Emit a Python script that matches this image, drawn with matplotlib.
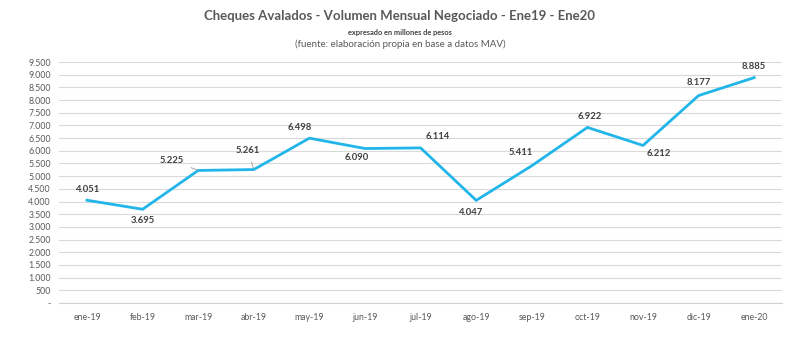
import matplotlib
matplotlib.use('Agg')
import matplotlib.pyplot as plt
from matplotlib.ticker import FuncFormatter

plt.rcParams['font.family'] = ['Lato', 'DejaVu Sans']

months = ['ene-19', 'feb-19', 'mar-19', 'abr-19', 'may-19', 'jun-19', 'jul-19',
          'ago-19', 'sep-19', 'oct-19', 'nov-19', 'dic-19', 'ene-20']
volumen = [4051, 3695, 5225, 5261, 6498, 6090, 6114, 4047, 5411, 6922, 6212, 8177, 8885]
# label offsets in pixels (dx, dy) and whether a leader line is drawn
offsets = [(1, 11), (0, -11), (-26, 10), (-6, 19), (-10, 11), (-8, -9), (17, 11),
           (-5, -12), (-11, 13), (2, 11), (16, -8), (0, 13), (0, 11)]
leaders = [False, False, True, True, False, False, False,
           False, False, False, False, False, False]

def miles(v):
    return f'{v:,.0f}'.replace(',', '.')

fig = plt.figure(figsize=(8, 3.43), dpi=100)
ax = fig.add_axes([0.074, 0.1166, 0.9035, 0.7026])

x = list(range(len(months)))
ax.plot(x, volumen, color='#22B5E9', lw=2.0, solid_joinstyle='miter', zorder=3)

for i, v in enumerate(volumen):
    dx, dy = offsets[i]
    props = None
    if leaders[i]:
        props = dict(arrowstyle='-', color='#A6A6A6', lw=0.7, shrinkA=3, shrinkB=1)
    ax.annotate(miles(v), (i, v), xytext=(dx * 0.72, dy * 0.72), textcoords='offset points',
                ha='center', va='center', fontsize=6.8, fontweight='bold', color='#404040',
                arrowprops=props, zorder=4)

ax.set_xlim(-0.5, len(months) - 0.5)
ax.set_ylim(0, 9500)
ax.set_yticks(range(0, 9501, 500))
ax.yaxis.set_major_formatter(FuncFormatter(lambda v, p: '-' if v == 0 else miles(v)))
ax.set_xticks(x)
ax.set_xticklabels(months)
ax.grid(axis='y', color='#D9D9D9', lw=0.8)
ax.set_axisbelow(True)
for s in ['top', 'right', 'left']:
    ax.spines[s].set_visible(False)
ax.spines['bottom'].set_color('#D0D0D0')
ax.tick_params(axis='both', length=0, labelsize=6.3, colors='#595959')
ax.tick_params(axis='y', pad=6)
ax.tick_params(axis='x', pad=7)

fig.text(0.5, 0.953, 'Cheques Avalados - Volumen Mensual Negociado - Ene19 - Ene20',
         ha='center', va='center', fontsize=9.5, fontweight='bold', color='#595959')
fig.text(0.5, 0.906, 'expresado en millones de pesos', ha='center', va='center',
         fontsize=5.3, fontweight='bold', color='#404040')
fig.text(0.5, 0.872, '(fuente: elaboración propia en base a datos MAV)', ha='center', va='center',
         fontsize=7, color='#595959')

fig.savefig('out.png', dpi=100)
